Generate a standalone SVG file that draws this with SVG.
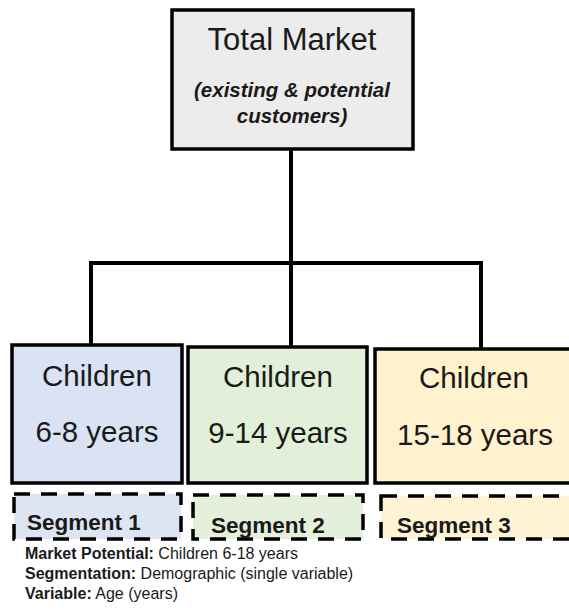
<svg xmlns="http://www.w3.org/2000/svg" width="569" height="615" viewBox="0 0 569 615">
<style>
.box{stroke:#000;stroke-width:3.5}
.seg{stroke:#000;stroke-width:3.5;stroke-dasharray:16 11}
.t{font-family:"Liberation Sans",Arial,sans-serif;fill:#1a1a1a}
.big{font-size:29.5px;text-anchor:middle}
.sg{font-size:22.5px;font-weight:bold}
.ft{font-size:16px}
.conn{fill:none;stroke:#000;stroke-width:4}
</style>
<rect width="569" height="615" fill="#fff"/>
<g id="connectors">
<path class="conn" d="M291 149 V347"/>
<path class="conn" d="M91 345 V263 H481 V349"/>
</g>
<g id="total-market">
<rect class="box" x="172" y="10" width="241" height="139" fill="#ececec"/>
<text class="t" x="292" y="50" font-size="31" text-anchor="middle">Total Market</text>
<text class="t" x="292" y="97" font-size="20.5" font-weight="bold" font-style="italic" text-anchor="middle">(existing &amp; potential</text>
<text class="t" x="292" y="123" font-size="20.5" font-weight="bold" font-style="italic" text-anchor="middle">customers)</text>
</g>
<g id="children-6-8">
<rect class="box" x="12" y="345" width="170" height="138" fill="#dae3f3"/>
<text class="t big" x="97" y="386">Children</text>
<text class="t big" x="97" y="442">6-8 years</text>
</g>
<g id="children-9-14">
<rect class="box" x="188" y="347" width="179" height="136" fill="#e2f0d9"/>
<text class="t big" x="278" y="387">Children</text>
<text class="t big" x="278" y="443">9-14 years</text>
</g>
<g id="children-15-18">
<rect class="box" x="375" y="349" width="200" height="134" fill="#fff2cc"/>
<text class="t big" x="474" y="388">Children</text>
<text class="t big" x="475" y="445">15-18 years</text>
</g>
<g id="segment-1">
<rect class="seg" x="14" y="494" width="167" height="45" fill="#dee5f2"/>
<text class="t sg" x="27" y="530">Segment 1</text>
</g>
<g id="segment-2">
<rect class="seg" x="193" y="495" width="170" height="44" fill="#e4f0dc"/>
<text class="t sg" x="211" y="533">Segment 2</text>
</g>
<g id="segment-3">
<rect class="seg" x="381" y="496" width="194" height="43" fill="#fef3d2"/>
<text class="t sg" x="397" y="533">Segment 3</text>
</g>
<g id="notes">
<text class="t ft" x="25" y="559"><tspan font-weight="bold">Market Potential:</tspan> Children 6-18 years</text>
<text class="t ft" x="25" y="579"><tspan font-weight="bold">Segmentation:</tspan> Demographic (single variable)</text>
<text class="t ft" x="25" y="599"><tspan font-weight="bold">Variable:</tspan> Age (years)</text>
</g>
</svg>
